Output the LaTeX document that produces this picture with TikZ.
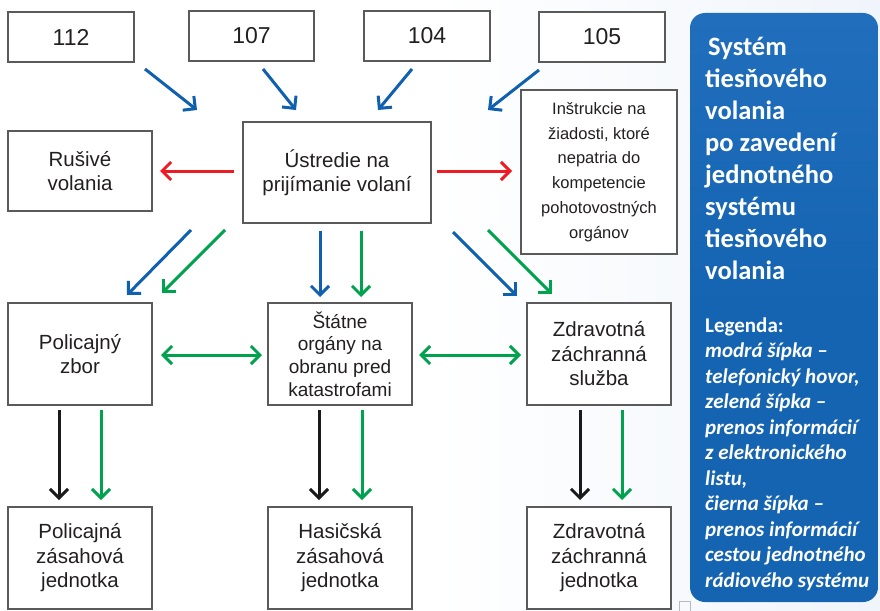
\documentclass[tikz,border=0pt]{standalone}
\usepackage{fontspec}
\setmainfont{Liberation Sans}
\newfontfamily\panelfont{Carlito}
\usetikzlibrary{arrows.meta}

\definecolor{arrblue}{RGB}{16,96,176}
\definecolor{arrgreen}{RGB}{0,163,77}
\definecolor{arrred}{RGB}{237,28,36}
\definecolor{arrblack}{RGB}{26,26,26}
\definecolor{boxline}{RGB}{90,90,90}
\definecolor{panelblue}{RGB}{21,100,178}
\definecolor{paneltop}{RGB}{32,110,188}
\definecolor{bgblue}{RGB}{240,245,251}
\definecolor{txt}{RGB}{35,31,32}

\begin{document}
\begin{tikzpicture}[x=1pt,y=-1pt,
  >={Straight Barb[length=9pt,width=18pt]},
  box/.style={draw=boxline, line width=1.1pt, fill=white, inner sep=0pt,
    align=center, text=txt, font=\fontsize{20.5}{24.5}\selectfont},
  numbox/.style={box, minimum width=126pt, minimum height=50pt,
    font=\fontsize{23}{27}\selectfont},
  midbox/.style={box, minimum width=144pt, minimum height=102pt},
  arr/.style={line width=3pt, ->},
  barr/.style={arr, draw=arrblue},
  garr/.style={arr, draw=arrgreen},
  rarr/.style={arr, draw=arrred},
  karr/.style={arr, draw=arrblack},
  paneltext/.style={anchor=north west, inner sep=0pt, text=white, align=left}
]
\useasboundingbox (0,0) rectangle (880,610);
\fill[white] (0,0) rectangle (880,610);
\shade[left color=white, right color=bgblue] (430,0) rectangle (880,610);

% legend panel
\shade[rounded corners=15pt, top color=paneltop, bottom color=panelblue, middle color=panelblue]
  (690,13) rectangle (878,602);
\draw[gray!55, line width=0.6pt] (679,601) rectangle (690,612);

\node[paneltext, font=\panelfont\bfseries\fontsize{26.5}{32}\selectfont] (title) at (705,37)
  {\hspace{3pt}Systém\\tiesňového\\volania\\po zavedení\\jednotného\\systému\\tiesňového\\volania};
\node[paneltext, font=\panelfont\bfseries\fontsize{21}{25.5}\selectfont] (legend) at (705,317.5)
  {Legenda:\\\itshape modrá šípka –\\\itshape telefonický hovor,\\\itshape zelená šípka –\\\itshape prenos informácií\\\itshape z elektronického\\\itshape listu,\\\itshape čierna šípka –\\\itshape prenos informácií\\\itshape cestou jednotného\\\itshape rádiového systému};

% boxes
\node[numbox] (n112) at (71,37) {112};
\node[numbox, minimum width=125pt] (n107) at (251.5,36) {107};
\node[numbox] (n104) at (427,36) {104};
\node[numbox] (n105) at (602,37) {105};
\node[box, minimum width=188pt, minimum height=101pt] (ustr) at (337,172.5) {Ústredie na\\prijímanie volaní};
\node[box, minimum width=144pt, minimum height=80pt] (rus) at (80,171) {Rušivé\\volania};
\node[box, minimum width=156pt, minimum height=164pt, font=\fontsize{16.5}{24.7}\selectfont] (instr) at (599,172)
  {Inštrukcie na\\žiadosti, ktoré\\nepatria do\\kompetencie\\pohotovostných\\orgánov};
\node[midbox] (pz) at (80,354) {Policajný\\zbor};
\node[midbox, font=\fontsize{19}{22.7}\selectfont] (sto) at (340,354) {Štátne\\orgány na\\obranu pred\\katastrofami};
\node[midbox] (zzs) at (599,354) {Zdravotná\\záchranná\\služba};
\node[midbox] (pzj) at (80,558) {Policajná\\zásahová\\jednotka};
\node[midbox] (hzj) at (340,558) {Hasičská\\zásahová\\jednotka};
\node[midbox] (zzj) at (599,558) {Zdravotná\\záchranná\\jednotka};

% arrow end points
\coordinate (c112) at (145,69);  \coordinate (u112) at (197,110);
\coordinate (c107) at (263,69);  \coordinate (u107) at (296,110);
\coordinate (c104) at (412,69);  \coordinate (u104) at (378,110);
\coordinate (c105) at (539,70);  \coordinate (u105) at (488,110);
\coordinate (rl1) at (234,171);  \coordinate (rl2) at (160,171);
\coordinate (rr1) at (437,171);  \coordinate (rr2) at (512,171);
\coordinate (bp1) at (191,230);  \coordinate (bp2) at (127,295);
\coordinate (gp1) at (225,230);  \coordinate (gp2) at (162,293);
\coordinate (bs1) at (320,231);  \coordinate (bs2) at (320,297);
\coordinate (gs1) at (361,231);  \coordinate (gs2) at (361,297);
\coordinate (bz1) at (453,232);  \coordinate (bz2) at (517,296);
\coordinate (gz1) at (488,230);  \coordinate (gz2) at (552,294);
\coordinate (dl1) at (161,355);  \coordinate (dl2) at (262,355);
\coordinate (dr1) at (419,355);  \coordinate (dr2) at (521,355);
\coordinate (kp1) at (59,410);   \coordinate (kp2) at (59,500);
\coordinate (gq1) at (101,410);  \coordinate (gq2) at (101,500);
\coordinate (ks1) at (319,410);  \coordinate (ks2) at (319,500);
\coordinate (gt1) at (362,410);  \coordinate (gt2) at (362,500);
\coordinate (kz1) at (580,410);  \coordinate (kz2) at (580,500);
\coordinate (gu1) at (622,410);  \coordinate (gu2) at (622,500);

% arrows
\draw[barr] (c112) -- (u112);
\draw[barr] (c107) -- (u107);
\draw[barr] (c104) -- (u104);
\draw[barr] (c105) -- (u105);
\draw[rarr] (rl1) -- (rl2);
\draw[rarr] (rr1) -- (rr2);
\draw[barr] (bp1) -- (bp2);
\draw[garr] (gp1) -- (gp2);
\draw[barr] (bs1) -- (bs2);
\draw[garr] (gs1) -- (gs2);
\draw[barr] (bz1) -- (bz2);
\draw[garr] (gz1) -- (gz2);
\draw[garr, <->] (dl1) -- (dl2);
\draw[garr, <->] (dr1) -- (dr2);
\draw[karr] (kp1) -- (kp2);
\draw[garr] (gq1) -- (gq2);
\draw[karr] (ks1) -- (ks2);
\draw[garr] (gt1) -- (gt2);
\draw[karr] (kz1) -- (kz2);
\draw[garr] (gu1) -- (gu2);
\end{tikzpicture}
\end{document}
